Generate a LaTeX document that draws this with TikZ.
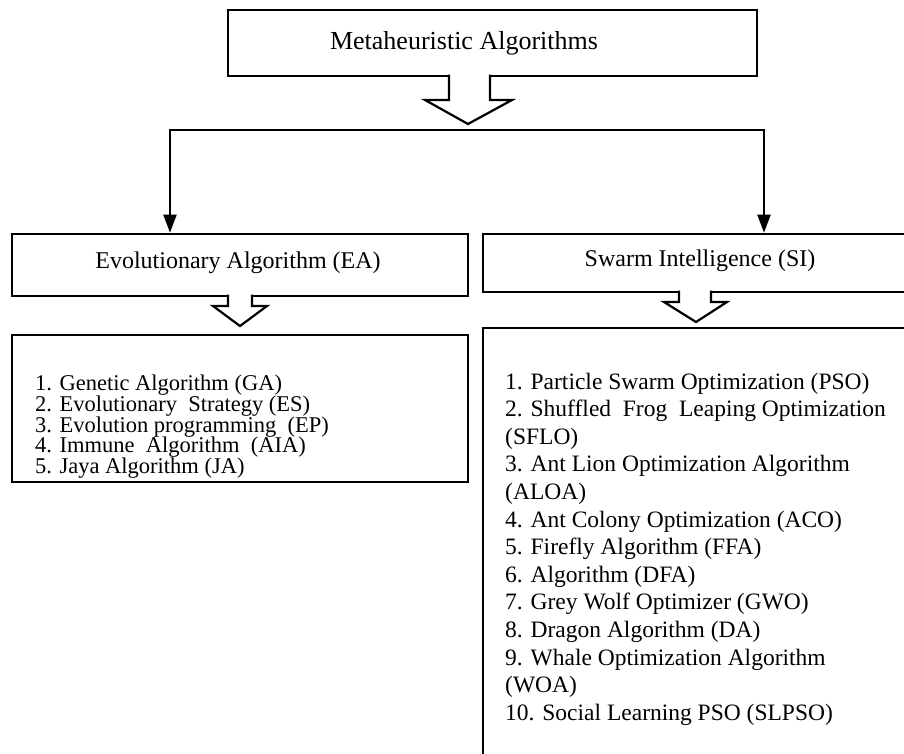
\documentclass[tikz,border=0pt]{standalone}
\usepackage{fontspec}
\setmainfont{Liberation Serif}
\usetikzlibrary{arrows.meta}
\begin{document}
\begin{tikzpicture}[x=1pt,y=-1pt,
  box/.style={draw,line width=2.6pt,rectangle,inner sep=0pt,line join=miter},
  hollow/.style={draw,line width=2.2pt,line join=miter},
  conn/.style={draw,line width=2pt},
  arr/.style={conn,-{Triangle[length=18pt,width=13pt]}},
  hfont/.style={font=\fontsize{24}{28}\selectfont},
  lfont/.style={font={\fontsize{22.5}{20.6}\selectfont\lineskiplimit=-100pt}},
  rfont/.style={font={\fontsize{23.5}{27.6}\selectfont\lineskiplimit=-100pt}}]
\useasboundingbox (0,0) rectangle (904,754);
% boxes
\node[box,minimum width=529pt,minimum height=66pt] (top) at (492.5,43) {};
\node[box,minimum width=456pt,minimum height=62pt] (ea) at (240,265) {};
\node[box,minimum width=434pt,minimum height=58pt] (si) at (700,263) {};
\node[box,minimum width=456pt,minimum height=147pt] (ealist) at (240,408.5) {};
\node[box,minimum width=434pt,minimum height=442pt] (silist) at (700,549) {};
% titles
\node[font=\fontsize{26}{30}\selectfont,inner sep=0pt] (toptext) at (464,43) {Metaheuristic Algorithms};
\node[hfont,inner sep=0pt] (eatext) at (238,263) {Evolutionary Algorithm (EA)};
\node[hfont,inner sep=0pt] (sitext) at (700,261) {Swarm Intelligence (SI)};
% hollow arrows
\path[fill=white] (449,74.7) -- (449,100) -- (425,100) -- (468,124) -- (512,100) -- (490,100) -- (490,74.7) -- cycle;
\draw[hollow] (449,74.7) -- (449,100) -- (425,100) -- (468,124) -- (512,100) -- (490,100) -- (490,74.7);
\path[fill=white] (228,294.7) -- (228,306) -- (213,306) -- (240,326) -- (267,306) -- (252,306) -- (252,294.7) -- cycle;
\draw[hollow] (228,294.7) -- (228,306) -- (213,306) -- (240,326) -- (267,306) -- (252,306) -- (252,294.7);
\path[fill=white] (679,290.7) -- (679,302) -- (664,302) -- (696,322) -- (727,302) -- (711,302) -- (711,290.7) -- cycle;
\draw[hollow] (679,290.7) -- (679,302) -- (664,302) -- (696,322) -- (727,302) -- (711,302) -- (711,290.7);
% connectors
\coordinate (hl) at (170,130);
\coordinate (hr) at (764,130);
\draw[conn,line cap=rect] (hl) -- (hr);
\draw[arr] (hl) -- (hl |- ea.north);
\draw[arr] (hr) -- (hr |- si.north);
% lists
\node[lfont,anchor=north west,inner sep=0pt,align=left] (eaitems) at (35,375)
  {1. Genetic Algorithm (GA)\\
   2. Evolutionary\ \ Strategy (ES)\\
   3. Evolution programming\ \ (EP)\\
   4. Immune\ \ Algorithm\ \ (AIA)\\
   5. Jaya Algorithm (JA)};
\node[rfont,anchor=north west,inner sep=0pt,align=left] (siitems) at (505,372.5)
  {1. Particle Swarm Optimization (PSO)\\
   2. Shuffled\ \ Frog\ \ Leaping Optimization\\
   (SFLO)\\
   3. Ant Lion Optimization Algorithm\\
   (ALOA)\\
   4. Ant Colony Optimization (ACO)\\
   5. Firefly Algorithm (FFA)\\
   6. Algorithm (DFA)\\
   7. Grey Wolf Optimizer (GWO)\\
   8. Dragon Algorithm (DA)\\
   9. Whale Optimization Algorithm\\
   (WOA)\\
   10. Social Learning PSO (SLPSO)};
\end{tikzpicture}
\end{document}
